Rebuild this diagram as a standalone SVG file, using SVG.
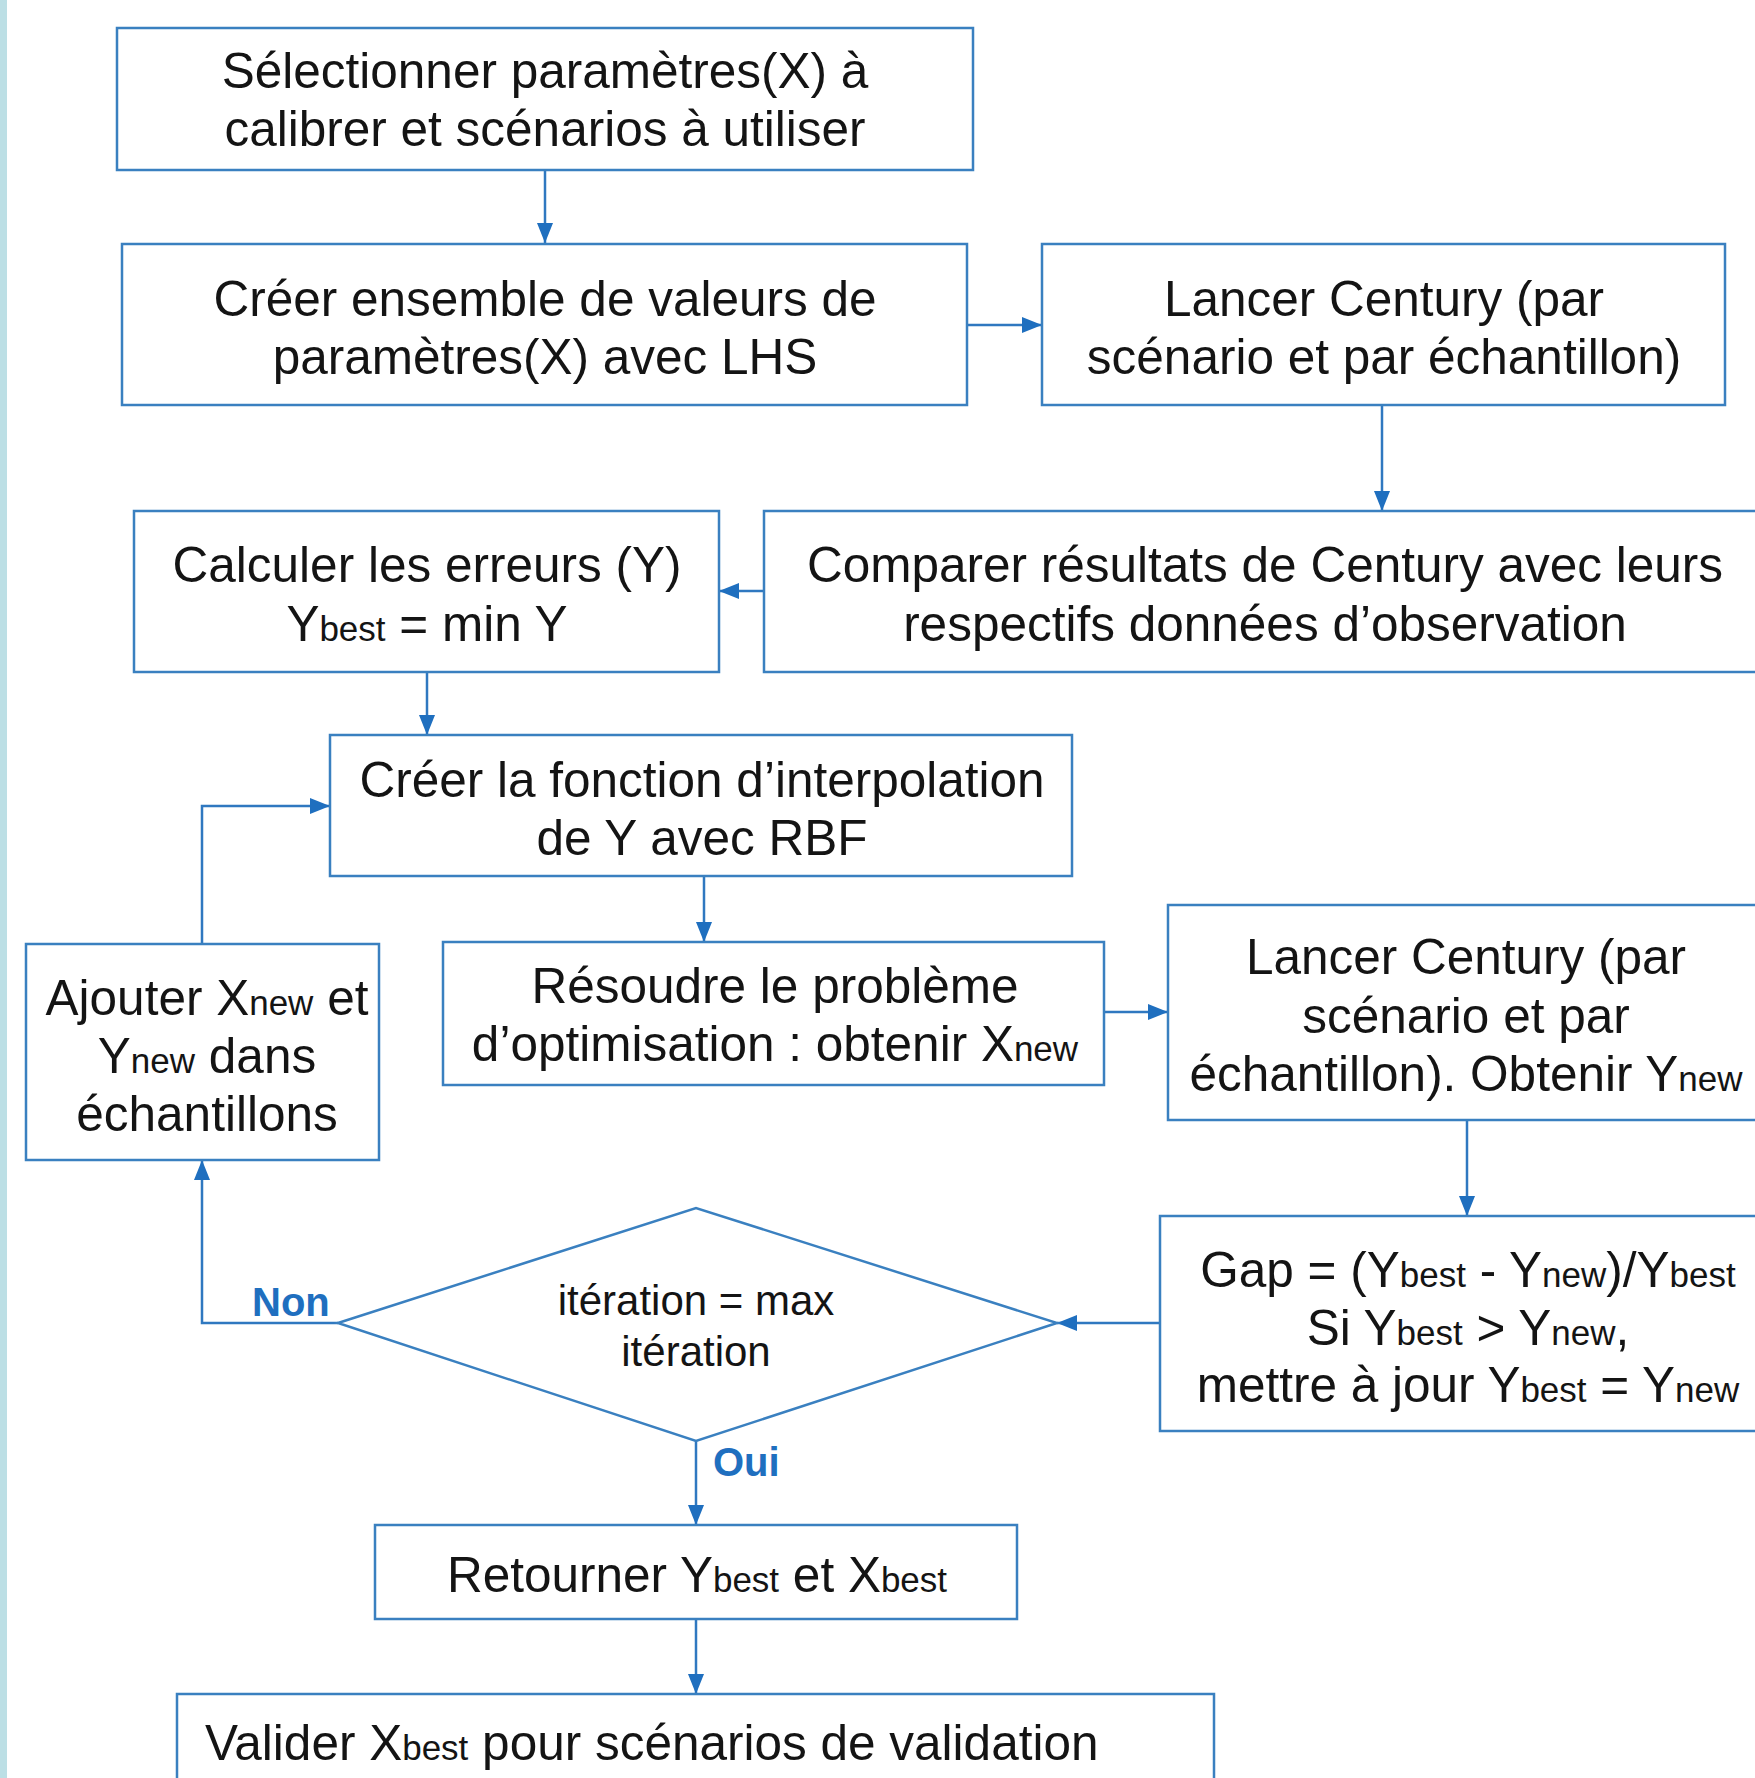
<svg xmlns="http://www.w3.org/2000/svg" width="1755" height="1778" viewBox="0 0 1755 1778">
<defs>
<style>
.box{fill:#ffffff;stroke:#3a80c0;stroke-width:2.5}
.t{font-family:"Liberation Sans",Arial,sans-serif;font-size:49.5px;fill:#141414;text-anchor:middle}
.s{font-size:35px}
.d{font-size:42px}
.lab{font-family:"Liberation Sans",Arial,sans-serif;font-size:40px;font-weight:bold;fill:#1f6fbf}
.c{fill:none;stroke:#2f78c0;stroke-width:2.5}
</style>
<marker id="ah" markerUnits="userSpaceOnUse" markerWidth="20" markerHeight="16" refX="20" refY="8" orient="auto">
<path d="M0,0 L20,8 L0,16 z" fill="#1f6fbf"/>
</marker>
</defs>
<rect x="0" y="0" width="1755" height="1778" fill="#ffffff"/>
<rect x="0" y="0" width="7" height="1778" fill="#bcdfe5"/>

<g id="connectors">
<path class="c" d="M545,170 V243" marker-end="url(#ah)"/>
<path class="c" d="M967,325 H1042" marker-end="url(#ah)"/>
<path class="c" d="M1382,405 V511" marker-end="url(#ah)"/>
<path class="c" d="M764,591 H719" marker-end="url(#ah)"/>
<path class="c" d="M427,672 V735" marker-end="url(#ah)"/>
<path class="c" d="M704,876 V942" marker-end="url(#ah)"/>
<path class="c" d="M1104,1012 H1168" marker-end="url(#ah)"/>
<path class="c" d="M1467,1120 V1216" marker-end="url(#ah)"/>
<path class="c" d="M1160,1323 H1057" marker-end="url(#ah)"/>
<path class="c" d="M338,1323 H202 V1160" marker-end="url(#ah)"/>
<path class="c" d="M202,944 V806 H330" marker-end="url(#ah)"/>
<path class="c" d="M696,1441 V1525" marker-end="url(#ah)"/>
<path class="c" d="M696,1619 V1694" marker-end="url(#ah)"/>
<text class="lab" x="252" y="1316">Non</text>
<text class="lab" x="713" y="1476">Oui</text>
</g>

<g id="n1">
<rect class="box" x="117" y="28" width="856" height="142"/>
<text class="t" x="545" y="88">Sélectionner paramètres(X) à</text>
<text class="t" x="545" y="146">calibrer et scénarios à utiliser</text>
</g>

<g id="n2">
<rect class="box" x="122" y="244" width="845" height="161"/>
<text class="t" x="545" y="316">Créer ensemble de valeurs de</text>
<text class="t" x="545" y="374">paramètres(X) avec LHS</text>
</g>

<g id="n3">
<rect class="box" x="1042" y="244" width="683" height="161"/>
<text class="t" x="1384" y="316">Lancer Century (par</text>
<text class="t" x="1384" y="374">scénario et par échantillon)</text>
</g>

<g id="n4">
<rect class="box" x="764" y="511" width="1004" height="161"/>
<text class="t" x="1265" y="582">Comparer résultats de Century avec leurs</text>
<text class="t" x="1265" y="641">respectifs données d’observation</text>
</g>

<g id="n5">
<rect class="box" x="134" y="511" width="585" height="161"/>
<text class="t" x="427" y="582">Calculer les erreurs (Y)</text>
<text class="t" x="427" y="641">Y<tspan class="s">best</tspan> = min Y</text>
</g>

<g id="n6">
<rect class="box" x="330" y="735" width="742" height="141"/>
<text class="t" x="702" y="797">Créer la fonction d’interpolation</text>
<text class="t" x="702" y="855">de Y avec RBF</text>
</g>

<g id="n7">
<rect class="box" x="443" y="942" width="661" height="143"/>
<text class="t" x="775" y="1003">Résoudre le problème</text>
<text class="t" x="775" y="1061">d’optimisation : obtenir X<tspan class="s">new</tspan></text>
</g>

<g id="n8">
<rect class="box" x="1168" y="905" width="600" height="215"/>
<text class="t" x="1466" y="974">Lancer Century (par</text>
<text class="t" x="1466" y="1033">scénario et par</text>
<text class="t" x="1466" y="1091">échantillon). Obtenir Y<tspan class="s">new</tspan></text>
</g>

<g id="n9">
<rect class="box" x="1160" y="1216" width="610" height="215"/>
<text class="t" x="1468" y="1287">Gap = (Y<tspan class="s">best</tspan> - Y<tspan class="s">new</tspan>)/Y<tspan class="s">best</tspan></text>
<text class="t" x="1468" y="1345">Si Y<tspan class="s">best</tspan> &gt; Y<tspan class="s">new</tspan>,</text>
<text class="t" x="1468" y="1402">mettre à jour Y<tspan class="s">best</tspan> = Y<tspan class="s">new</tspan></text>
</g>

<g id="n10">
<rect class="box" x="26" y="944" width="353" height="216"/>
<text class="t" x="207" y="1015">Ajouter X<tspan class="s">new</tspan> et</text>
<text class="t" x="207" y="1073">Y<tspan class="s">new</tspan> dans</text>
<text class="t" x="207" y="1131">échantillons</text>
</g>

<g id="n11">
<polygon class="box" points="338,1323 696,1208 1057,1323 696,1441"/>
<text class="t d" x="696" y="1315">itération = max</text>
<text class="t d" x="696" y="1366">itération</text>
</g>

<g id="n12">
<rect class="box" x="375" y="1525" width="642" height="94"/>
<text class="t" x="697" y="1592">Retourner Y<tspan class="s">best</tspan> et X<tspan class="s">best</tspan></text>
</g>

<g id="n13">
<rect class="box" x="177" y="1694" width="1037" height="100"/>
<text class="t" x="205" y="1760" style="text-anchor:start">Valider X<tspan class="s">best</tspan> pour scénarios de validation</text>
</g>
</svg>
